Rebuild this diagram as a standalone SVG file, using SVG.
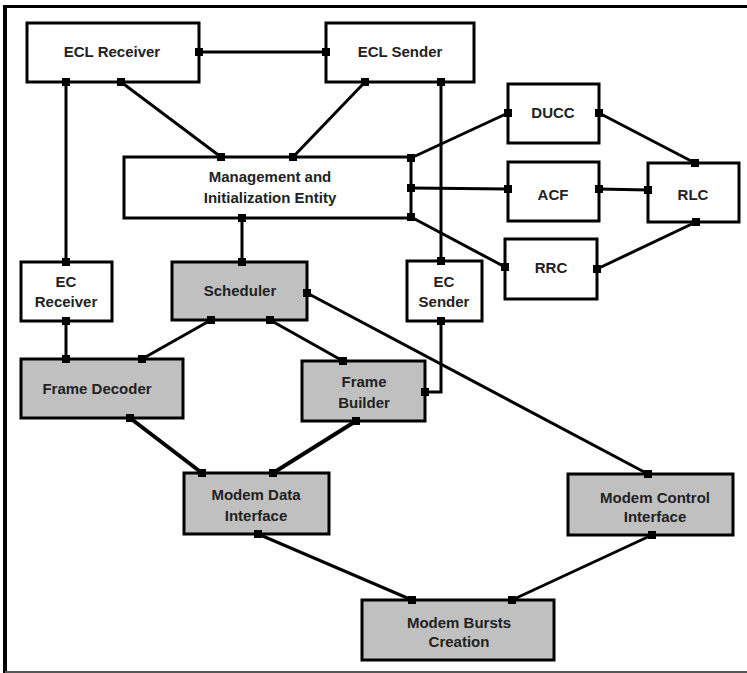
<svg xmlns="http://www.w3.org/2000/svg" width="747" height="673" viewBox="0 0 747 673">
<defs>
<style>
.box{fill:#fff;stroke:#000;stroke-width:3}
.g{fill:#c0c0c0}
.t{font-family:"Liberation Sans",Arial,sans-serif;font-weight:bold;font-size:15px;fill:#222;text-anchor:middle}
.c{stroke:#000;stroke-width:3;fill:none}
.thick{stroke-width:4}
.p{fill:#000}
</style>
</defs>
<rect width="747" height="673" fill="#fff"/>
<g id="frame">
<line x1="3" y1="6.5" x2="747" y2="6.5" stroke="#000" stroke-width="3"/>
<line x1="5" y1="5" x2="5" y2="673" stroke="#000" stroke-width="4"/>
<line x1="5" y1="672" x2="747" y2="672" stroke="#555" stroke-width="2"/>
</g>
<g id="connectors">
<line class="c" x1="199" y1="52" x2="326" y2="52"/>
<line class="c" x1="66" y1="82" x2="66" y2="262"/>
<line class="c" x1="121" y1="82" x2="221" y2="157"/>
<line class="c" x1="365" y1="82" x2="293" y2="157"/>
<line class="c" x1="441" y1="82" x2="441" y2="261"/>
<line class="c" x1="411" y1="158" x2="508" y2="113"/>
<line class="c" x1="411" y1="188" x2="508" y2="189"/>
<line class="c" x1="411" y1="217" x2="505" y2="267"/>
<line class="c" x1="599" y1="113" x2="695" y2="163"/>
<line class="c" x1="599" y1="189" x2="648" y2="190"/>
<line class="c" x1="597" y1="269" x2="696" y2="222"/>
<line class="c" x1="242" y1="218" x2="242" y2="262"/>
<line class="c" x1="66" y1="321" x2="66" y2="359"/>
<line class="c" x1="211" y1="320" x2="142" y2="359"/>
<line class="c" x1="270" y1="320" x2="343" y2="361"/>
<polyline class="c" points="441,321 441,392 425,392"/>
<line class="c" x1="307" y1="293" x2="648" y2="474"/>
<line class="c thick" x1="130" y1="418" x2="202" y2="473"/>
<line class="c thick" x1="356" y1="421" x2="273" y2="473"/>
<line class="c" x1="258" y1="534" x2="412" y2="600"/>
<line class="c" x1="652" y1="535" x2="512" y2="600"/>
</g>
<g id="ecl-receiver">
<rect class="box" x="27" y="23" width="172" height="59"/>
<text class="t" x="112" y="57">ECL Receiver</text>
</g>
<g id="ecl-sender">
<rect class="box" x="326" y="23" width="148" height="59"/>
<text class="t" x="400" y="57">ECL Sender</text>
</g>
<g id="management">
<rect class="box" x="124" y="157" width="287" height="61"/>
<text class="t" x="270" y="182">Management and</text>
<text class="t" x="270" y="203">Initialization Entity</text>
</g>
<g id="ducc">
<rect class="box" x="508" y="84" width="91" height="59"/>
<text class="t" x="553" y="118">DUCC</text>
</g>
<g id="acf">
<rect class="box" x="508" y="162" width="91" height="59"/>
<text class="t" x="553" y="200">ACF</text>
</g>
<g id="rrc">
<rect class="box" x="505" y="239" width="92" height="60"/>
<text class="t" x="551" y="273">RRC</text>
</g>
<g id="rlc">
<rect class="box" x="648" y="163" width="91" height="59"/>
<text class="t" x="693" y="200">RLC</text>
</g>
<g id="ec-receiver">
<rect class="box" x="21" y="262" width="91" height="59"/>
<text class="t" x="66" y="287">EC</text>
<text class="t" x="66" y="307">Receiver</text>
</g>
<g id="scheduler">
<rect class="box g" x="172" y="262" width="135" height="58"/>
<text class="t" x="240" y="296">Scheduler</text>
</g>
<g id="ec-sender">
<rect class="box" x="407" y="261" width="75" height="60"/>
<text class="t" x="444" y="287">EC</text>
<text class="t" x="444" y="307">Sender</text>
</g>
<g id="frame-decoder">
<rect class="box g" x="21" y="359" width="162" height="59"/>
<text class="t" x="97" y="394">Frame Decoder</text>
</g>
<g id="frame-builder">
<rect class="box g" x="302" y="361" width="123" height="60"/>
<text class="t" x="364" y="387">Frame</text>
<text class="t" x="364" y="408">Builder</text>
</g>
<g id="modem-data-interface">
<rect class="box g" x="184" y="473" width="145" height="61"/>
<text class="t" x="256" y="500">Modem Data</text>
<text class="t" x="256" y="521">Interface</text>
</g>
<g id="modem-control-interface">
<rect class="box g" x="568" y="474" width="165" height="61"/>
<text class="t" x="655" y="503">Modem Control</text>
<text class="t" x="655" y="522">Interface</text>
</g>
<g id="modem-bursts-creation">
<rect class="box g" x="362" y="600" width="192" height="60"/>
<text class="t" x="459" y="628">Modem Bursts</text>
<text class="t" x="459" y="647">Creation</text>
</g>
<g id="ports" class="p">
<rect x="195" y="48" width="8" height="8"/>
<rect x="322" y="48" width="8" height="8"/>
<rect x="62" y="78" width="8" height="8"/>
<rect x="117" y="78" width="8" height="8"/>
<rect x="361" y="78" width="8" height="8"/>
<rect x="437" y="78" width="8" height="8"/>
<rect x="217" y="153" width="8" height="8"/>
<rect x="289" y="153" width="8" height="8"/>
<rect x="238" y="214" width="8" height="8"/>
<rect x="407" y="154" width="8" height="8"/>
<rect x="407" y="184" width="8" height="8"/>
<rect x="407" y="213" width="8" height="8"/>
<rect x="504" y="109" width="8" height="8"/>
<rect x="595" y="109" width="8" height="8"/>
<rect x="504" y="185" width="8" height="8"/>
<rect x="595" y="185" width="8" height="8"/>
<rect x="501" y="263" width="8" height="8"/>
<rect x="593" y="265" width="8" height="8"/>
<rect x="691" y="159" width="8" height="8"/>
<rect x="644" y="186" width="8" height="8"/>
<rect x="692" y="218" width="8" height="8"/>
<rect x="62" y="258" width="8" height="8"/>
<rect x="62" y="317" width="8" height="8"/>
<rect x="238" y="258" width="8" height="8"/>
<rect x="303" y="289" width="8" height="8"/>
<rect x="207" y="316" width="8" height="8"/>
<rect x="266" y="316" width="8" height="8"/>
<rect x="437" y="257" width="8" height="8"/>
<rect x="437" y="317" width="8" height="8"/>
<rect x="62" y="355" width="8" height="8"/>
<rect x="138" y="355" width="8" height="8"/>
<rect x="126" y="414" width="8" height="8"/>
<rect x="339" y="357" width="8" height="8"/>
<rect x="421" y="388" width="8" height="8"/>
<rect x="352" y="417" width="8" height="8"/>
<rect x="198" y="469" width="8" height="8"/>
<rect x="269" y="469" width="8" height="8"/>
<rect x="254" y="530" width="8" height="8"/>
<rect x="644" y="470" width="8" height="8"/>
<rect x="648" y="531" width="8" height="8"/>
<rect x="408" y="596" width="8" height="8"/>
<rect x="508" y="596" width="8" height="8"/>
</g>
</svg>
